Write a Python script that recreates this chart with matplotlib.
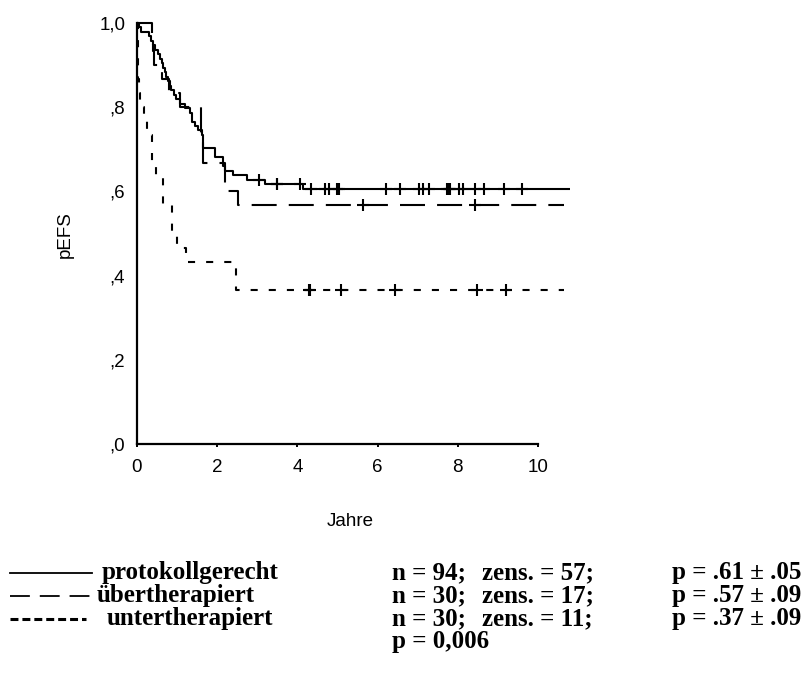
import numpy as np
import matplotlib
matplotlib.use("Agg")
import matplotlib.pyplot as plt
from matplotlib.lines import Line2D

# ---------------------------------------------------------------- data
group_labels = ["protokollgerecht", "übertherapiert", "untertherapiert"]
n_patients = [94, 30, 30]
n_censored = [57, 17, 11]
p_final = [".61", ".57", ".37"]
p_se = [".05", ".09", ".09"]
logrank_p = "0,006"

# event times (years); repeated values are simultaneous events
events_proto = [0.05, 0.10, 0.30, 0.35, 0.40, 0.45, 0.52, 0.57, 0.62, 0.66,
                0.70, 0.73, 0.78, 0.82, 0.86, 0.92, 0.98, 1.07, 1.20, 1.32,
                1.37, 1.37, 1.45, 1.53, 1.62, 1.65, 1.65, 1.65, 1.95, 1.95,
                2.15, 2.15, 2.19, 2.40, 2.75, 3.20, 4.15]
events_ueber = [0.37, 0.40, 0.42, 0.63, 0.81, 1.07, 1.59, 1.59, 1.65, 1.65,
                2.19, 2.19, 2.53]
events_unter = [0.02, 0.02, 0.02, 0.02, 0.05, 0.08, 0.17, 0.26, 0.37, 0.37,
                0.47, 0.66, 0.66, 0.88, 0.88, 0.99, 1.22, 2.46, 2.46]

# censored observations (years)
censor_proto = [3.05, 3.48, 3.50, 4.06, 4.33, 4.70, 4.80, 4.99, 5.03, 6.21,
                6.56, 7.03, 7.14, 7.28, 7.74, 7.78, 7.81, 8.02, 8.14, 8.43,
                8.65, 9.14, 9.61]
censor_ueber = [5.63, 8.43]
censor_unter = [4.29, 4.31, 5.09, 6.43, 8.49, 9.19]

# end of follow-up per group
follow_up_end = [10.80, 10.65, 10.65]

x_ticks = [0, 2, 4, 6, 8, 10]
y_ticks = [0.0, 0.2, 0.4, 0.6, 0.8, 1.0]
y_tick_labels = [",0", ",2", ",4", ",6", ",8", "1,0"]


def kaplan_meier(event_times, censor_times, n):
    ev = np.sort(np.asarray(event_times, float))
    ce = np.sort(np.asarray(censor_times, float))
    xs, ys = [0.0], [1.0]
    s = 1.0
    for t in np.unique(ev):
        d = np.sum(ev == t)
        at_risk = n - np.sum(ev < t) - np.sum(ce < t)
        s *= 1.0 - d / at_risk
        xs.append(t)
        ys.append(s)
    return np.array(xs), np.array(ys)


def survival_at(xs, ys, t):
    idx = np.searchsorted(xs, t, side="right") - 1
    return ys[idx]


# ---------------------------------------------------------------- layout
W, H = 812, 680
fig = plt.figure(figsize=(W / 100, H / 100), dpi=100)

X0, X10 = 137, 538          # pixel columns of year 0 and year 10
Y0, Y1 = 444, 23            # pixel rows of survival 0 and 1
ppy = (X10 - X0) / 10.0
x_max = 10.9
ax = fig.add_axes([X0 / W, (H - Y0) / H, x_max * ppy / W, (Y0 - Y1) / H])
ax.set_xlim(0, x_max)
ax.set_ylim(0, 1.0)

sans = ["Liberation Sans", "DejaVu Sans"]
serif = ["Liberation Serif", "DejaVu Serif"]

lw = 1.5
styles = [
    dict(linestyle="-"),
    dict(linestyle=(0, (12.0, 5.8))),
    dict(linestyle=(0, (3.4, 5.3))),
]
all_events = [events_proto, events_ueber, events_unter]
all_censor = [censor_proto, censor_ueber, censor_unter]

for ev, ce, n, end, st in zip(all_events, all_censor, n_patients,
                              follow_up_end, styles):
    xs, ys = kaplan_meier(ev, ce, n)
    px = np.append(xs, end)
    py = np.append(ys, ys[-1])
    ax.plot(px, py, drawstyle="steps-post", color="black", lw=lw,
            clip_on=False, solid_capstyle="butt", dash_capstyle="butt", **st)
    cy = [survival_at(xs, ys, t) for t in ce]
    ax.plot(ce, cy, linestyle="none", marker="+", markersize=8.5,
            markeredgewidth=1.5, color="black", clip_on=False)

# axes styling
for side in ("top", "right"):
    ax.spines[side].set_visible(False)
ax.spines["left"].set_linewidth(1.6)
ax.spines["bottom"].set_linewidth(1.6)
ax.spines["bottom"].set_bounds(0, 10)
ax.set_xticks(x_ticks)
ax.set_xticklabels([str(v) for v in x_ticks], family=sans, fontsize=13.5)
ax.set_yticks(y_ticks)
ax.set_yticklabels(y_tick_labels, family=sans, fontsize=13.5)
ax.tick_params(axis="x", direction="out", length=2.5, width=1.4, pad=8.5)
ax.tick_params(axis="y", length=0, pad=8.5)

fig.text(65 / W, 1 - 235 / H, "pEFS", rotation=90, ha="center", va="center",
         family=sans, fontsize=13.5)
fig.text(350 / W, 1 - 521 / H, "Jahre", ha="center", va="center",
         family=sans, fontsize=13.5)

# ---------------------------------------------------------------- legend block
baselines = [579, 602, 625, 648]
label_x = [102, 97, 107]
col_n, col_z, col_p = 392, 482, 672
fs = 18


def fig_line(x_a, x_b, y, **kw):
    fig.add_artist(Line2D([x_a / W, x_b / W], [1 - y / H, 1 - y / H],
                          transform=fig.transFigure, color="black", **kw))


fig_line(10, 92, baselines[0] - 6, lw=1.3)
fig_line(10, 92, baselines[1] - 6, lw=1.3, linestyle=(0, (11, 5.5)))
fig_line(10, 86, baselines[2] - 6, lw=2.2, linestyle=(0, (2.6, 1.3)))


def legend_text(x, y, s):
    fig.text(x / W, 1 - y / H, s, ha="left", va="baseline", family=serif,
             fontweight="bold", fontsize=fs)


for i in range(3):
    legend_text(label_x[i], baselines[i], group_labels[i])
    legend_text(col_n, baselines[i], f"n = {n_patients[i]};")
    legend_text(col_z, baselines[i], f"zens. = {n_censored[i]};")
    legend_text(col_p, baselines[i], f"p = {p_final[i]} ± {p_se[i]}")

legend_text(col_n, baselines[3], f"p = {logrank_p}")

fig.savefig("out.png", dpi=100, facecolor="white")
